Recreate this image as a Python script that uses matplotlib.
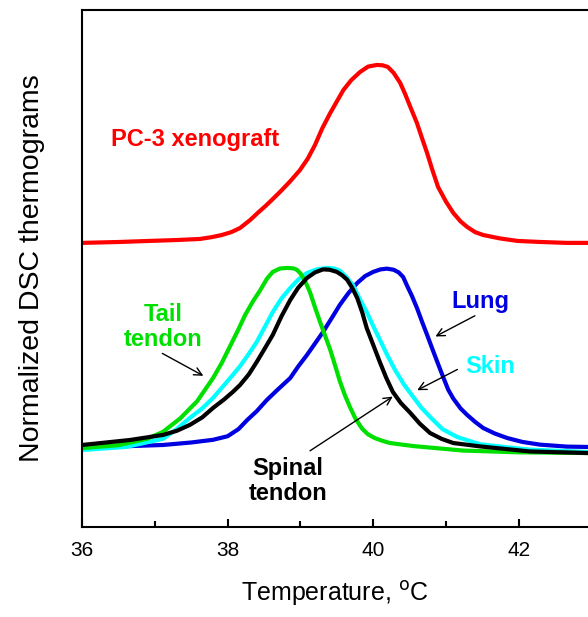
import matplotlib
matplotlib.use('Agg')
import matplotlib.pyplot as plt
from matplotlib.ticker import MultipleLocator

plt.rcParams['font.family'] = ['Liberation Sans', 'DejaVu Sans']

# PC-3 xenograft (shifted up)
t_pc3 = [36.00, 36.50, 36.93, 37.30, 37.62, 37.78, 37.92, 38.05, 38.17, 38.31, 38.42, 38.52,
         38.62, 38.72, 38.85, 38.99, 39.10, 39.20, 39.30, 39.41, 39.50, 39.59, 39.70, 39.82,
         39.93, 40.05, 40.13, 40.20, 40.28, 40.37, 40.44, 40.51, 40.60, 40.67, 40.74, 40.81,
         40.89, 41.00, 41.10, 41.20, 41.29, 41.40, 41.51, 41.74, 41.98, 42.30, 42.66, 42.95]
y_pc3 = [1.140, 1.145, 1.151, 1.156, 1.162, 1.172, 1.184, 1.200, 1.223, 1.268, 1.310, 1.346,
         1.385, 1.425, 1.480, 1.545, 1.610, 1.687, 1.780, 1.866, 1.930, 1.994, 2.050, 2.095,
         2.125, 2.134, 2.132, 2.123, 2.090, 2.034, 1.970, 1.899, 1.810, 1.725, 1.642, 1.550,
         1.453, 1.370, 1.307, 1.260, 1.229, 1.200, 1.184, 1.165, 1.151, 1.145, 1.140, 1.140]

# tail tendon
t_tail = [36.00, 36.50, 36.89, 37.11, 37.35, 37.58, 37.80, 37.92, 38.03, 38.14, 38.24, 38.35,
          38.45, 38.54, 38.62, 38.72, 38.82, 38.90, 38.95, 39.00, 39.06, 39.13, 39.20, 39.27,
          39.34, 39.41, 39.48, 39.54, 39.61, 39.68, 39.76, 39.85, 39.93, 40.02, 40.12, 40.23,
          40.55, 41.23, 42.00, 42.95]
y_tail = [-0.006, 0.010, 0.045, 0.084, 0.160, 0.255, 0.385, 0.470, 0.560, 0.650, 0.737, 0.815,
          0.877, 0.940, 0.978, 0.997, 1.000, 0.998, 0.990, 0.970, 0.930, 0.866, 0.780, 0.698,
          0.620, 0.542, 0.450, 0.369, 0.290, 0.223, 0.155, 0.101, 0.070, 0.050, 0.035, 0.022,
          0.005, -0.020, -0.030, -0.034]

# spinal tendon
t_spinal = [36.00, 36.66, 37.11, 37.30, 37.48, 37.65, 37.80, 37.95, 38.07, 38.17, 38.29, 38.40,
            38.51, 38.62, 38.74, 38.86, 38.97, 39.09, 39.20, 39.31, 39.40, 39.50, 39.57, 39.64,
            39.71, 39.78, 39.85, 39.91, 40.00, 40.09, 40.18, 40.27, 40.38, 40.51, 40.64, 40.78,
            40.94, 41.10, 41.47, 42.15, 42.95]
y_spinal = [0.011, 0.039, 0.067, 0.090, 0.123, 0.165, 0.218, 0.265, 0.307, 0.346, 0.405, 0.475,
            0.550, 0.626, 0.730, 0.821, 0.890, 0.944, 0.975, 0.992, 0.990, 0.978, 0.960, 0.935,
            0.890, 0.832, 0.750, 0.665, 0.570, 0.475, 0.385, 0.307, 0.245, 0.190, 0.130, 0.078,
            0.045, 0.022, 0.003, -0.025, -0.034]

# skin
t_skin = [36.00, 36.60, 37.11, 37.30, 37.48, 37.65, 37.80, 37.94, 38.07, 38.17, 38.29, 38.40,
          38.51, 38.62, 38.74, 38.86, 38.97, 39.09, 39.23, 39.37, 39.46, 39.54, 39.63, 39.72,
          39.81, 39.91, 40.00, 40.09, 40.19, 40.30, 40.42, 40.55, 40.66, 40.78, 40.95, 41.15,
          41.47, 41.80, 42.15, 42.95]
y_skin = [-0.017, 0.000, 0.045, 0.100, 0.162, 0.215, 0.274, 0.340, 0.402, 0.451, 0.520, 0.587,
          0.670, 0.754, 0.830, 0.888, 0.935, 0.972, 0.993, 1.000, 0.997, 0.985, 0.950, 0.905,
          0.830, 0.754, 0.675, 0.600, 0.515, 0.430, 0.350, 0.279, 0.220, 0.168, 0.100, 0.056,
          0.015, 0.000, -0.015, -0.028]

# lung
t_lung = [36.00, 36.60, 37.11, 37.50, 37.80, 38.00, 38.15, 38.27, 38.40, 38.54, 38.70, 38.86,
          38.97, 39.09, 39.20, 39.31, 39.43, 39.54, 39.66, 39.78, 39.89, 40.00, 40.10, 40.19,
          40.28, 40.35, 40.41, 40.46, 40.53, 40.60, 40.67, 40.74, 40.81, 40.88, 40.96, 41.03,
          41.10, 41.20, 41.29, 41.40, 41.51, 41.67, 41.84, 42.05, 42.29, 42.66, 42.95]
y_lung = [0.000, 0.004, 0.011, 0.025, 0.040, 0.060, 0.100, 0.151, 0.200, 0.263, 0.325, 0.385,
          0.450, 0.514, 0.578, 0.642, 0.720, 0.793, 0.860, 0.916, 0.955, 0.978, 0.992, 0.996,
          0.990, 0.975, 0.950, 0.905, 0.845, 0.777, 0.700, 0.626, 0.550, 0.475, 0.391, 0.320,
          0.270, 0.215, 0.179, 0.140, 0.106, 0.075, 0.050, 0.028, 0.013, 0.002, 0.000]

fig = plt.figure(figsize=(5.88, 6.17), dpi=100)
ax = fig.add_axes([0.1395, 0.1459, 0.8605, 0.8379])

lw = 3
ax.plot(t_pc3, y_pc3, color='#ff0000', lw=lw)
ax.plot(t_lung, y_lung, color='#0000e0', lw=lw)
ax.plot(t_skin, y_skin, color='#00ffff', lw=lw)
ax.plot(t_tail, y_tail, color='#00e000', lw=lw)
ax.plot(t_spinal, y_spinal, color='#000000', lw=lw)

ax.set_xlim(36, 42.95)
ax.set_ylim(-0.447, 2.441)
ax.set_yticks([])
ax.xaxis.set_major_locator(MultipleLocator(2))
ax.xaxis.set_minor_locator(MultipleLocator(1))
ax.tick_params(axis='x', which='major', direction='in', length=6, width=1.5, labelsize=15, pad=10)
ax.tick_params(axis='x', which='minor', direction='in', length=4, width=1.5)
ax.spines['right'].set_visible(False)
for s in ['left', 'bottom', 'top']:
    ax.spines[s].set_linewidth(1.5)

ax.set_xlabel('Temperature, $^{\\mathrm{o}}$C', fontsize=18, labelpad=14)
ax.set_ylabel('Normalized DSC thermograms', fontsize=20.5, labelpad=27)

fs = 17
ax.text(37.55, 1.72, 'PC-3 xenograft', color='#ff0000', fontsize=fs, fontweight='bold',
        ha='center', va='center')
ax.text(37.12, 0.67, 'Tail\ntendon', color='#00e000', fontsize=fs, fontweight='bold',
        ha='center', va='center', linespacing=1.12)
ax.text(41.47, 0.81, 'Lung', color='#0000e0', fontsize=fs, fontweight='bold',
        ha='center', va='center')
ax.text(41.6, 0.45, 'Skin', color='#00ffff', fontsize=fs, fontweight='bold',
        ha='center', va='center')
ax.text(38.83, -0.19, 'Spinal\ntendon', color='#000000', fontsize=fs, fontweight='bold',
        ha='center', va='center', linespacing=1.12)

arr = dict(arrowstyle='->', color='black', lw=1, mutation_scale=14)
ax.annotate('', xy=(37.70, 0.39), xytext=(37.07, 0.53), arrowprops=arr)
ax.annotate('', xy=(40.82, 0.61), xytext=(41.43, 0.74), arrowprops=arr)
ax.annotate('', xy=(40.57, 0.31), xytext=(41.19, 0.44), arrowprops=arr)
ax.annotate('', xy=(40.30, 0.29), xytext=(39.10, -0.03), arrowprops=arr)

fig.savefig('out.png', dpi=100)
